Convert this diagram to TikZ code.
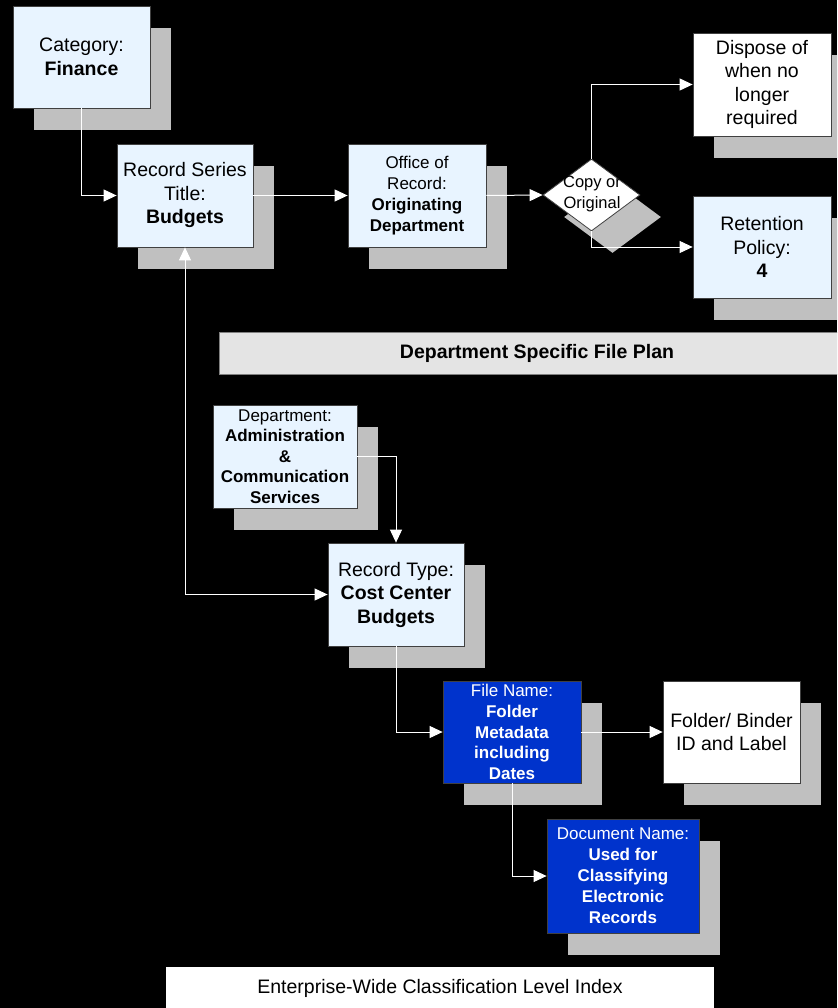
\documentclass[tikz,border=0pt]{standalone}
\usepackage{fontspec}
\setmainfont{Liberation Sans}
\usetikzlibrary{arrows.meta,shapes.geometric,shadows}
\definecolor{lblue}{HTML}{E8F4FF}
\definecolor{shgray}{HTML}{C0C0C0}
\definecolor{bord}{HTML}{404040}
\definecolor{dblue}{HTML}{0033CC}
\definecolor{barfill}{HTML}{E4E4E4}
\begin{document}
\begin{tikzpicture}[x=1pt,y=-1pt,
  tip/.tip={Triangle[length=13pt,width=12pt]},
  sh/.style={drop shadow={shadow xshift=21pt,shadow yshift=-22pt,fill=shgray,opacity=1}},
  box/.style={draw=bord,line width=0.8pt,fill=lblue,inner sep=0pt,align=center,sh},
  wbox/.style={box,fill=white},
  bbox/.style={box,fill=dblue,text=white},
  big/.style={font=\fontsize{19.5}{23.5}\selectfont},
  small/.style={font=\fontsize{17}{20.6}\selectfont},
  conn/.style={draw=white,line width=1pt,-tip}
]
\path[use as bounding box,fill=black] (0,0) rectangle (837,1008);
\clip (0,0) rectangle (837,1008);

% top row
\node[box,big,minimum width=137pt,minimum height=102pt] (cat) at (81.5,57) {Category:\\\textbf{Finance}};
\node[box,big,minimum width=136pt,minimum height=103pt] (rs) at (185,195.5) {Record Series\\Title:\\\textbf{Budgets}};
\node[box,small,minimum width=138pt,minimum height=103pt,font=\fontsize{17}{21}\selectfont] (off) at (417,195.5) {Office of\\Record:\\\textbf{Originating}\\\textbf{Department}};
\node[diamond,draw=bord,line width=0.8pt,fill=white,minimum width=97pt,minimum height=72pt,inner sep=0pt,sh] (dia) at (591.5,195) {};
\node[align=center,text=black,font=\fontsize{16.5}{21}\selectfont] (dtext) at (592,193.5) {Copy or\\Original};
\node[wbox,big,minimum width=138pt,minimum height=103pt] (disp) at (762,84.5) {Dispose of\\when no\\longer\\required};
\node[box,big,minimum width=138pt,minimum height=102pt] (ret) at (762,247) {Retention\\Policy:\\\textbf{4}};

% file plan bar
\node[draw=gray,fill=barfill,line width=0.8pt,minimum width=636pt,minimum height=42pt,inner sep=0pt,font=\fontsize{19.5}{23.5}\selectfont] (plan) at (537,353) {\textbf{Department Specific File Plan}};

% lower part
\node[box,small,minimum width=144pt,minimum height=103pt] (dept) at (285,456.5) {Department:\\\textbf{Administration}\\\textbf{\&}\\\textbf{Communication}\\\textbf{Services}};
\node[box,big,minimum width=136pt,minimum height=103pt] (rt) at (396,594.5) {Record Type:\\\textbf{Cost Center}\\\textbf{Budgets}};
\node[bbox,small,minimum width=138pt,minimum height=102pt] (file) at (512,732) {File Name:\\\textbf{Folder}\\\textbf{Metadata}\\\textbf{including}\\\textbf{Dates}};
\node[wbox,big,minimum width=137pt,minimum height=102pt] (fold) at (731.5,732) {Folder/ Binder\\ID and Label};
\node[bbox,small,minimum width=152pt,minimum height=114pt,font=\fontsize{17}{21}\selectfont] (doc) at (623,876) {Document Name:\\\textbf{Used for}\\\textbf{Classifying}\\\textbf{Electronic}\\\textbf{Records}};

% bottom bar
\node[fill=white,minimum width=548pt,minimum height=42pt,inner sep=0pt,font=\fontsize{19.5}{23.5}\selectfont] (index) at (440,988) {Enterprise-Wide Classification Level Index};

% connectors
\draw[conn] (cat.south) |- (rs.west);
\draw[conn] (rs.east) -- (off.west);
\draw[conn] (off.east) -- (dia.west);
\draw[conn] (dia.north) |- (disp.west);
\draw[conn] (dia.south) |- (ret.west);
\draw[conn,tip-tip] (rs.south) |- (rt.west);
\draw[conn] (dept.east) -| (rt.north);
\draw[conn] (rt.south) |- (file.west);
\draw[conn] (file.east) -- (fold.west);
\draw[conn] (file.south) |- (doc.west);
\end{tikzpicture}
\end{document}
